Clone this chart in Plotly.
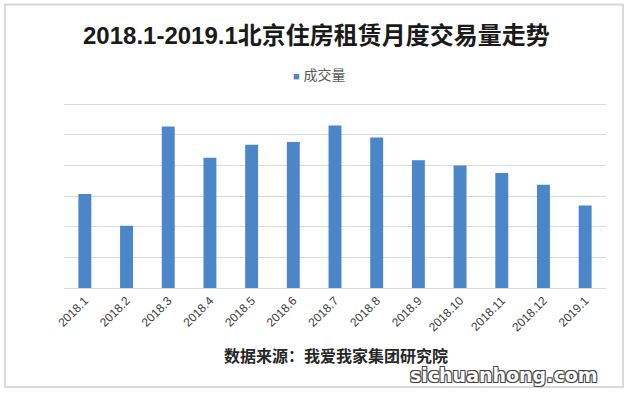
import plotly.graph_objects as go

months = ["2018.1", "2018.2", "2018.3", "2018.4", "2018.5", "2018.6", "2018.7",
          "2018.8", "2018.9", "2018.10", "2018.11", "2018.12", "2019.1"]
volume = [3.07, 2.03, 5.27, 4.25, 4.67, 4.76, 5.30, 4.91, 4.17, 4.00, 3.75, 3.37, 2.69]
series_name = "成交量"
title_text = "2018.1-2019.1北京住房租赁月度交易量走势"
source_text = "数据来源：我爱我家集团研究院"
watermark = "sichuanhong.com"
bar_color = "#4a86c8"

W, H = 630, 394
L, R, T, B = 64, 606, 101, 288  # plot area in pixels


def px(x):
    return (x - L) / (R - L)


def py(y):
    return (B - y) / (B - T)


CJK = "Liberation Sans, Noto Sans CJK SC"

fig = go.Figure()
fig.add_trace(go.Bar(
    x=months, y=volume, name=series_name,
    marker=dict(color=bar_color, line=dict(width=0)),
    showlegend=False,
))

fig.update_layout(
    width=W, height=H,
    margin=dict(l=L, r=W - R, t=T, b=H - B, pad=0),
    paper_bgcolor="white", plot_bgcolor="white",
    bargap=0.69,
    font=dict(family=CJK, color="#404040"),
    xaxis=dict(tickangle=-45, tickfont=dict(size=12, color="#404040"),
               showline=True, linecolor="#d9d9d9", linewidth=1, ticks="",
               showgrid=False),
    yaxis=dict(range=[0, 6.1], tickvals=[1, 2, 3, 4, 5, 6], showticklabels=False,
               showgrid=True, gridcolor="#d9d9d9", gridwidth=1, zeroline=False,
               showline=False, ticks=""),
    shapes=[dict(type="rect", xref="paper", yref="paper",
                 x0=px(5), x1=px(623), y0=py(387), y1=py(4.5),
                 line=dict(color="#d9d9d9", width=2), fillcolor="rgba(0,0,0,0)",
                 layer="below")],
    annotations=[
        dict(text="<b>" + title_text + "</b>", xref="paper", yref="paper",
             x=px(316), y=py(36), xanchor="center", yanchor="middle", showarrow=False,
             font=dict(size=24, color="#1a1a1a", family=CJK)),
        dict(text="<span style='color:" + bar_color + ";font-size:11px'>■</span> " + series_name,
             xref="paper", yref="paper",
             x=px(291), y=py(75), xanchor="left", yanchor="middle", showarrow=False,
             font=dict(size=14, color="#595959", family=CJK)),
        dict(text="<b>" + source_text + "</b>", xref="paper", yref="paper",
             x=px(336), y=py(356), xanchor="center", yanchor="middle", showarrow=False,
             font=dict(size=16, color="#262626", family=CJK)),
        dict(text="<b>" + watermark + "</b>", xref="paper", yref="paper",
             x=px(600), y=py(375), xanchor="right", yanchor="middle", showarrow=False,
             font=dict(size=19, color="white", family="DejaVu Sans",
                       shadow="1px 1px 0 #444, -1px -1px 0 #444, 1px -1px 0 #444, -1px 1px 0 #444")),
    ],
)

fig.write_html("out.html")
